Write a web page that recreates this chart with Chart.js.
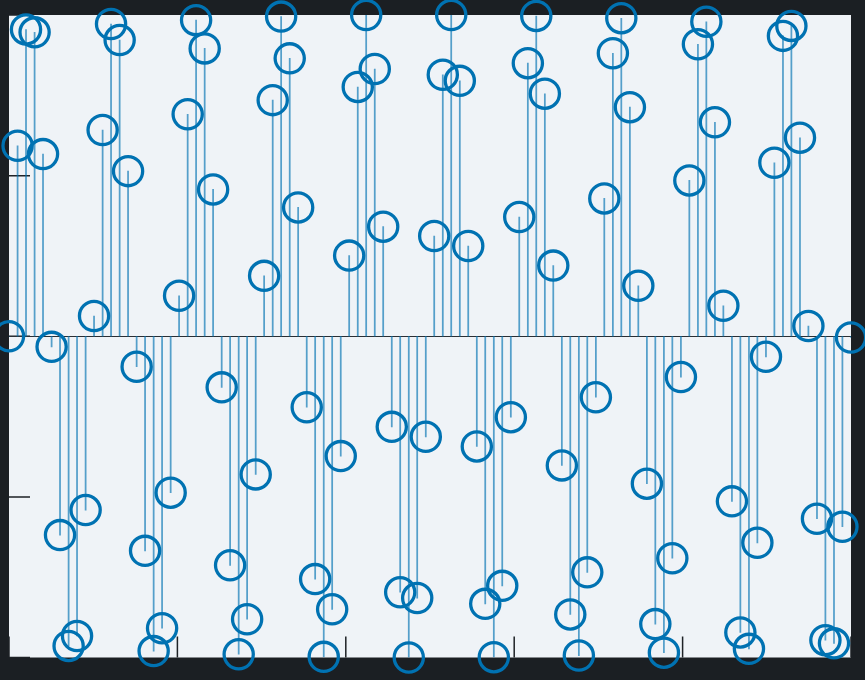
<!DOCTYPE html>
<html>
<head>
<meta charset="utf-8">
<script src="https://cdn.jsdelivr.net/npm/chart.js@4.4.1/dist/chart.umd.min.js"></script>
<style>
  html, body { margin: 0; padding: 0; background: #1b1f23; }
  #wrap { width: 865px; height: 680px; }
</style>
</head>
<body>
<div id="wrap"><canvas id="stemChart"></canvas></div>
<script>
// sample positions along x (0 .. 5)
const xValues = [
  0.000, 0.051, 0.101, 0.152, 0.202, 0.253, 0.303, 0.354, 0.404, 0.455,
  0.505, 0.556, 0.606, 0.657, 0.707, 0.758, 0.808, 0.859, 0.909, 0.960,
  1.010, 1.061, 1.111, 1.162, 1.212, 1.263, 1.313, 1.364, 1.414, 1.465,
  1.515, 1.566, 1.616, 1.667, 1.717, 1.768, 1.818, 1.869, 1.919, 1.970,
  2.020, 2.071, 2.121, 2.172, 2.222, 2.273, 2.323, 2.374, 2.424, 2.475,
  2.525, 2.576, 2.626, 2.677, 2.727, 2.778, 2.828, 2.879, 2.929, 2.980,
  3.030, 3.081, 3.131, 3.182, 3.232, 3.283, 3.333, 3.384, 3.434, 3.485,
  3.535, 3.586, 3.636, 3.687, 3.737, 3.788, 3.838, 3.889, 3.939, 3.990,
  4.040, 4.091, 4.141, 4.192, 4.242, 4.293, 4.343, 4.394, 4.444, 4.495,
  4.545, 4.596, 4.646, 4.697, 4.747, 4.798, 4.848, 4.899, 4.949, 5.000
]

// values
const yValues = [
   0.000,  0.593,  0.955,  0.946,  0.567, -0.033, -0.619, -0.964, -0.933, -0.541,
   0.063,  0.642,  0.972,  0.922,  0.514, -0.095, -0.668, -0.980, -0.909, -0.487,
   0.126,  0.691,  0.984,  0.896,  0.457, -0.159, -0.713, -0.990, -0.881, -0.430,
   0.188,  0.735,  0.995,  0.865,  0.401, -0.221, -0.756, -0.998, -0.850, -0.373,
   0.251,  0.776,  1.000,  0.832,  0.341, -0.282, -0.797, -1.000, -0.815, -0.313,
   0.312,  0.814,  1.000,  0.795,  0.281, -0.343, -0.833, -0.999, -0.777, -0.252,
   0.371,  0.850,  0.997,  0.755,  0.220, -0.402, -0.866, -0.994, -0.735, -0.190,
   0.429,  0.881,  0.990,  0.713,  0.157, -0.459, -0.896, -0.985, -0.691, -0.127,
   0.485,  0.909,  0.979,  0.666,  0.095, -0.514, -0.922, -0.973, -0.643, -0.064,
   0.540,  0.935,  0.966,  0.618,  0.032, -0.568, -0.946, -0.956, -0.593, -0.004
]

const xTickStep = 1
const yTickStep = 0.5

const stemData = xValues.map((x, i) => ({ x: x, y: [0, yValues[i]] }))
const markerData = xValues.map((x, i) => ({ x: x, y: yValues[i] }))

// plot background, zero line and inward tick marks
const framePlugin = {
    id: 'frame',
    beforeDraw(chart) {
        const { ctx, chartArea } = chart
        ctx.save()
        ctx.fillStyle = '#eff3f7'
        ctx.fillRect(chartArea.left, chartArea.top, chartArea.right - chartArea.left, chartArea.bottom - chartArea.top)
        ctx.restore()
    },
    beforeDatasetsDraw(chart) {
        const { ctx, chartArea, scales } = chart
        const len = 21
        ctx.save()
        ctx.strokeStyle = '#1e2226'
        ctx.lineWidth = 1.5
        ctx.beginPath()
        scales.y.ticks.forEach(t => {
            const py = scales.y.getPixelForValue(t.value)
            ctx.moveTo(chartArea.left, py)
            ctx.lineTo(chartArea.left + len, py)
        })
        scales.x.ticks.forEach(t => {
            const px = scales.x.getPixelForValue(t.value)
            ctx.moveTo(px, chartArea.bottom)
            ctx.lineTo(px, chartArea.bottom - len)
        })
        ctx.stroke()

        const zy = Math.round(scales.y.getPixelForValue(0)) + 0.5
        ctx.strokeStyle = '#2a2e33'
        ctx.lineWidth = 1
        ctx.beginPath()
        ctx.moveTo(chartArea.left, zy)
        ctx.lineTo(chartArea.right, zy)
        ctx.stroke()
        ctx.restore()
    }
}

const ctx = document.getElementById('stemChart').getContext('2d')
const chart = new Chart(ctx, {
    type: 'scatter',
    data: {
        datasets: [
            {
                type: 'scatter',
                label: 'markers',
                data: markerData,
                showLine: false,
                pointRadius: 14.6,
                pointHoverRadius: 14.6,
                pointBorderWidth: 3.3,
                pointHoverBorderWidth: 3.3,
                borderColor: '#0072b2',
                backgroundColor: 'rgba(0,0,0,0)',
                clip: false,
                order: 1,
            },
            {
                type: 'bar',
                label: 'stems',
                data: stemData,
                barThickness: 1.1,
                backgroundColor: 'rgba(0, 114, 178, 0.65)',
                borderWidth: 0,
                borderSkipped: false,
                order: 2,
            },
        ],
    },
    options: {
        responsive: true,
        maintainAspectRatio: false,
        animation: false,
        devicePixelRatio: 1,
        layout: {
            autoPadding: false,
            padding: { left: 9, top: 15, right: 14, bottom: 22.5 }
        },
        plugins: {
            legend: { display: false },
            tooltip: { enabled: false },
            title: { display: false },
        },
        scales: {
            x: {
                type: 'linear',
                display: false,
                offset: false,
                min: 0,
                max: 5,
                ticks: { stepSize: xTickStep },
            },
            y: {
                type: 'linear',
                display: false,
                min: -1,
                max: 1,
                ticks: { stepSize: yTickStep },
            },
        },
    },
    plugins: [framePlugin],
})
</script>
</body>
</html>
